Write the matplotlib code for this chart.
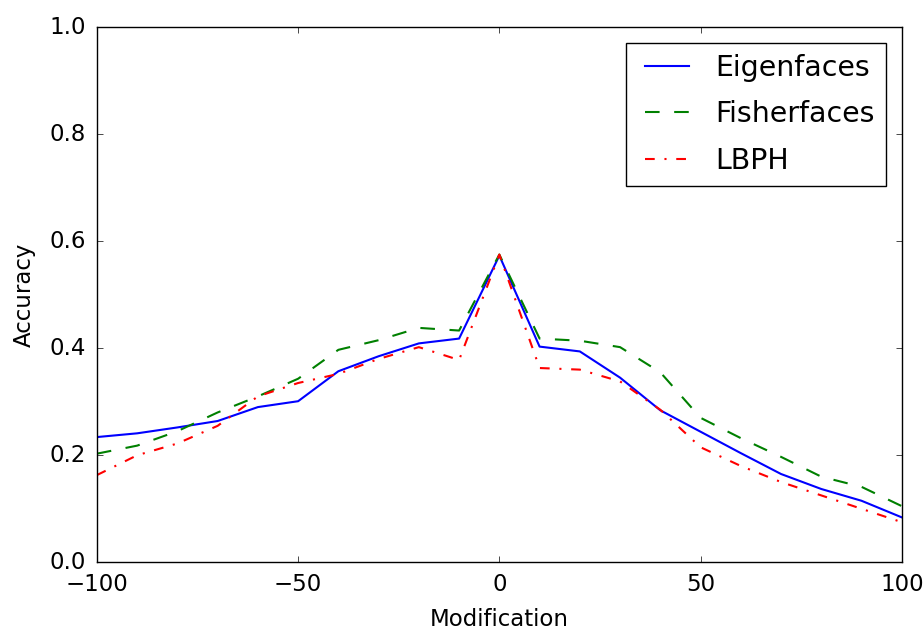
import matplotlib
matplotlib.use('Agg')
import matplotlib.pyplot as plt

modification = [-100, -90, -80, -70, -60, -50, -40, -30, -20, -10, 0,
                10, 20, 30, 40, 50, 60, 70, 80, 90, 100]
eigenfaces = [0.234, 0.241, 0.252, 0.264, 0.29, 0.301, 0.357, 0.385, 0.409, 0.418, 0.573,
              0.403, 0.394, 0.345, 0.284, 0.244, 0.204, 0.165, 0.137, 0.115, 0.084]
fisherfaces = [0.203, 0.218, 0.245, 0.28, 0.31, 0.343, 0.397, 0.415, 0.438, 0.433, 0.575,
               0.418, 0.414, 0.402, 0.355, 0.27, 0.232, 0.197, 0.16, 0.141, 0.105]
lbph = [0.163, 0.2, 0.222, 0.255, 0.31, 0.335, 0.352, 0.38, 0.402, 0.378, 0.575,
        0.363, 0.36, 0.338, 0.285, 0.215, 0.18, 0.15, 0.125, 0.1, 0.075]

plt.style.use('classic')
plt.rcParams['font.size'] = 16.5
plt.rcParams['xtick.major.pad'] = 8
plt.rcParams['ytick.major.pad'] = 8

fig = plt.figure(figsize=(9.23, 6.29), dpi=100, facecolor='white')
ax = fig.add_axes([0.105, 0.106, 0.872, 0.851])
ax.plot(modification, eigenfaces, color='b', linestyle='-', linewidth=1.5, label='Eigenfaces')
ax.plot(modification, fisherfaces, color='g', linestyle=(0, (10.5, 10.5)), linewidth=1.5, label='Fisherfaces')
ax.plot(modification, lbph, color='r', linestyle=(0, (7, 7, 1.5, 7)), linewidth=1.5, label='LBPH')
ax.set_xlim(-100, 100)
ax.set_ylim(0, 1.0)
ax.set_xticks([-100, -50, 0, 50, 100])
ax.set_xlabel('Modification', labelpad=8)
ax.set_ylabel('Accuracy', labelpad=10)
ax.legend(loc='upper right', fontsize=20.4, labelspacing=0.65, handlelength=2.15,
          handletextpad=0.62, borderaxespad=0.55)

fig.savefig('out.png', dpi=100, facecolor='white')
